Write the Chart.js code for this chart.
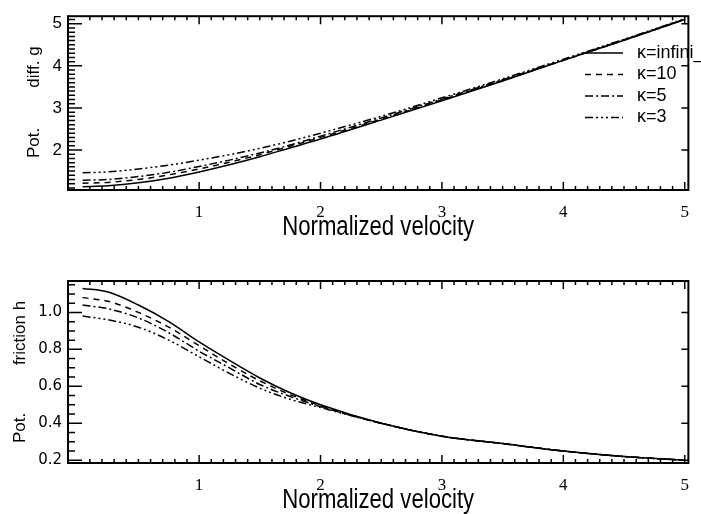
<!DOCTYPE html>
<html>
<head>
<meta charset="utf-8">
<script src="https://cdn.jsdelivr.net/npm/chart.js@4.4.1/dist/chart.umd.min.js"></script>
<style>
body { margin: 0; background: #fff; }
.panel { position: absolute; left: 0; width: 701px; height: 257px; }
</style>
</head>
<body>
<div class="panel" style="top:0"><canvas id="gChart"></canvas></div>
<div class="panel" style="top:257px"><canvas id="hChart"></canvas></div>
<script>
// values
const velocity = [0.04, 0.25, 0.5, 0.75, 1.0, 1.25, 1.5, 1.75, 2.0, 2.5, 3.0, 3.5, 4.0, 4.5, 5.0]
const kappaLabels = ['κ=infini_', 'κ=10', 'κ=5', 'κ=3']

const gInf = [1.13, 1.15, 1.22, 1.33, 1.48, 1.65, 1.84, 2.05, 2.26, 2.71, 3.17, 3.64, 4.13, 4.61, 5.10]
const g10  = [1.21, 1.23, 1.30, 1.41, 1.55, 1.71, 1.89, 2.09, 2.30, 2.73, 3.19, 3.65, 4.13, 4.61, 5.10]
const g5   = [1.28, 1.30, 1.37, 1.47, 1.61, 1.76, 1.93, 2.12, 2.33, 2.76, 3.21, 3.67, 4.14, 4.62, 5.11]
const g3   = [1.46, 1.48, 1.55, 1.64, 1.76, 1.89, 2.04, 2.21, 2.40, 2.80, 3.24, 3.69, 4.16, 4.63, 5.12]

const hInf = [1.13, 1.11, 1.04, 0.95, 0.84, 0.74, 0.645, 0.565, 0.50, 0.40, 0.33, 0.29, 0.25, 0.22, 0.20]
const h10  = [1.08, 1.06, 1.00, 0.92, 0.82, 0.72, 0.63, 0.555, 0.495, 0.40, 0.33, 0.29, 0.25, 0.22, 0.20]
const h5   = [1.04, 1.02, 0.97, 0.89, 0.79, 0.70, 0.61, 0.545, 0.49, 0.40, 0.33, 0.29, 0.25, 0.22, 0.20]
const h3   = [0.98, 0.96, 0.92, 0.85, 0.76, 0.67, 0.59, 0.53, 0.485, 0.40, 0.33, 0.29, 0.25, 0.22, 0.20]

const xTicks = [1, 2, 3, 4, 5]
const gTicks = [2, 3, 4, 5]
const hTicks = [0.2, 0.4, 0.6, 0.8, 1.0]

const dashes = [[], [6, 5], [8, 3, 2, 3], [8, 3, 2, 3, 2, 3, 2, 3]]

function makeSets(series) {
  return series.map((s, i) => ({
    label: kappaLabels[i],
    data: velocity.map((v, j) => ({x: v, y: s[j]})),
    borderColor: '#000',
    borderWidth: 1.5,
    borderDash: dashes[i],
    pointRadius: 0,
    cubicInterpolationMode: 'monotone',
    fill: false
  }))
}

// IDL style box, inward ticks, titles and legend
const idlAxes = {
  id: 'idlAxes',
  afterDatasetsDraw(chart, args, o) {
    const ctx = chart.ctx, a = chart.chartArea
    const x = chart.scales.x, y = chart.scales.y
    ctx.save()
    ctx.strokeStyle = '#000'
    ctx.lineWidth = 1.5
    ctx.beginPath()
    for (let i = 1; i <= 50; i++) {
      const px = x.getPixelForValue(i / 10)
      if (px < a.left || px > a.right) continue
      const len = i % 10 === 0 ? 8 : 4
      ctx.moveTo(px, a.bottom); ctx.lineTo(px, a.bottom - len)
      ctx.moveTo(px, a.top); ctx.lineTo(px, a.top + len)
    }
    const k0 = Math.ceil(y.min / o.step - 1e-6), k1 = Math.floor(y.max / o.step + 1e-6)
    for (let k = k0; k <= k1; k++) {
      const py = y.getPixelForValue(k * o.step)
      const major = k % o.every === 0
      ctx.moveTo(a.left, py); ctx.lineTo(a.left + (major ? 14 : 7), py)
      if (major) { ctx.moveTo(a.right, py); ctx.lineTo(a.right - 7, py) }
    }
    ctx.stroke()
    ctx.lineWidth = 2
    ctx.strokeRect(a.left, a.top, a.right - a.left, a.bottom - a.top)

    ctx.fillStyle = '#000'
    ctx.textAlign = 'center'
    ctx.textBaseline = 'middle'
    // condensed title like the original
    ctx.save()
    ctx.translate((a.left + a.right) / 2, a.bottom + 38)
    ctx.scale(0.82, 1)
    ctx.font = '27px "Liberation Sans", sans-serif'
    ctx.fillText('Normalized velocity', 0, 0)
    ctx.restore()

    ctx.font = '17px "Liberation Sans", sans-serif'
    o.yTitle.forEach(t => {
      ctx.save()
      ctx.translate(o.yTitleX, t.y)
      ctx.rotate(-Math.PI / 2)
      ctx.fillText(t.text, 0, 0)
      ctx.restore()
    })

    if (o.legend) {
      ctx.font = '18px "Liberation Sans", sans-serif'
      ctx.textAlign = 'left'
      chart.data.datasets.forEach((ds, i) => {
        const ly = o.legend.top + i * 21.5
        ctx.setLineDash(ds.borderDash)
        ctx.lineWidth = 1.5
        ctx.beginPath()
        ctx.moveTo(o.legend.x0, ly); ctx.lineTo(o.legend.x1, ly)
        ctx.stroke()
        ctx.setLineDash([])
        ctx.fillText(ds.label, o.legend.tx, ly)
      })
    }
    ctx.restore()
  }
}

function makeChart(id, series, yMin, yMax, yTicks, yFont, yFmt, top, bottom, extra) {
  const H = 257
  return new Chart(document.getElementById(id), {
    type: 'line',
    data: {datasets: makeSets(series)},
    plugins: [idlAxes],
    options: {
      responsive: true,
      maintainAspectRatio: false,
      animation: false,
      devicePixelRatio: 1,
      layout: {padding: {top: top, right: 4, left: 0, bottom: 0}},
      plugins: {legend: {display: false}, tooltip: {enabled: false}, idlAxes: extra},
      scales: {
        x: {
          type: 'linear', min: -0.08, max: 5.03,
          afterBuildTicks: s => { s.ticks = xTicks.map(v => ({value: v})) },
          afterFit: s => { s.height = H - bottom },
          grid: {display: false, drawTicks: false},
          border: {display: false},
          ticks: {color: '#000', padding: 12, maxRotation: 0, autoSkip: false,
                  font: {family: '"Liberation Serif", serif', size: 17}}
        },
        y: {
          type: 'linear', min: yMin, max: yMax,
          afterBuildTicks: s => { s.ticks = yTicks.map(v => ({value: v})) },
          afterFit: s => { s.width = 68 },
          grid: {display: false, drawTicks: false},
          border: {display: false},
          ticks: {color: '#000', padding: 6, autoSkip: false, callback: yFmt, font: yFont}
        }
      }
    }
  })
}

makeChart('gChart', [gInf, g10, g5, g3], 1.05, 5.18, gTicks,
  {family: '"Liberation Sans", sans-serif', size: 17}, v => String(v), 7, 190,
  {step: 0.1, every: 10, yTitleX: 34,
   yTitle: [{text: 'Pot.', y: 143}, {text: 'diff. g', y: 67}],
   legend: {top: 53, x0: 585, x1: 623, tx: 637}})

makeChart('hChart', [hInf, h10, h5, h3], 0.185, 1.17, hTicks,
  {family: '"DejaVu Sans", sans-serif', size: 15}, v => v.toFixed(1), 24, 206,
  {step: 0.05, every: 4, yTitleX: 20,
   yTitle: [{text: 'Pot.', y: 428 - 257}, {text: 'friction h', y: 333 - 257}],
   legend: null})
</script>
</body>
</html>
